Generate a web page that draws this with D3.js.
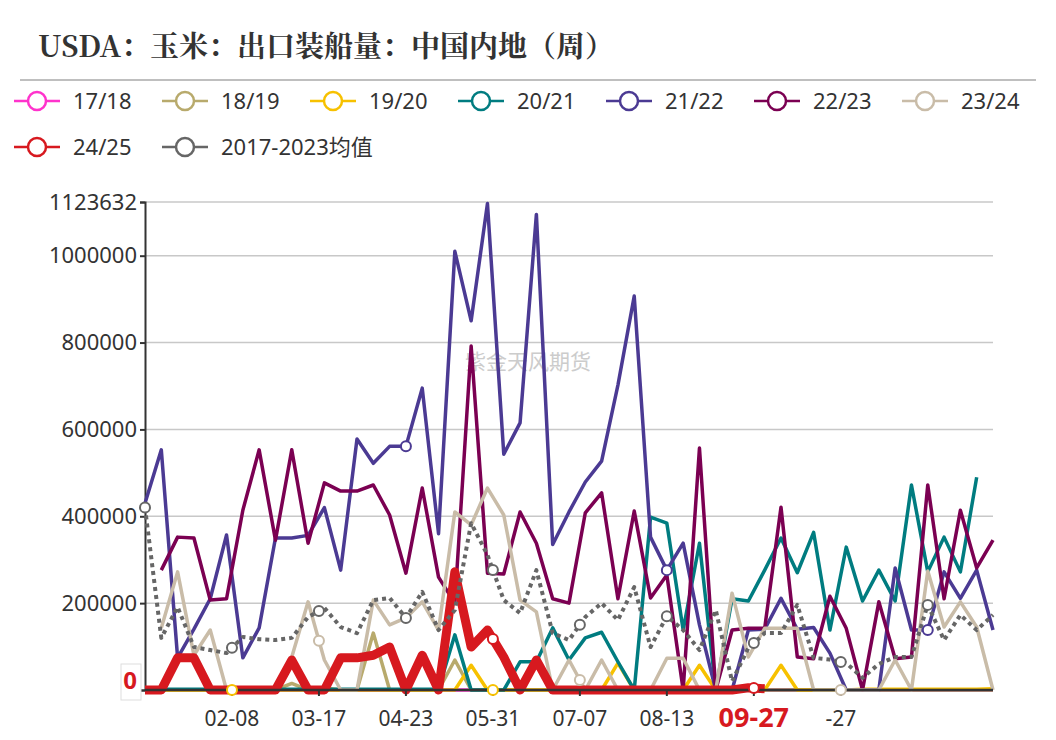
<!DOCTYPE html>
<html><head><meta charset="utf-8">
<script src="https://cdn.jsdelivr.net/npm/d3@7"></script>
<style>body{margin:0;background:#fff;font-family:"Noto Sans","Noto Sans CJK SC",sans-serif;}</style>
</head><body><svg id="chart" width="1056" height="740"></svg>
<script>
// weekly values, k = 1000
var s1718 = [0,0,0,0,0,0,0,0,0,0,0,0,0,0,0,0,0,0,0,0,0,0,0,0,0,0,0,0,0,0,0,0,0,0,0,0,0,0,0,0,0,0,0,0,0,0,0,0,0,0,0,0,0];
var s1819 = [0,0,0,0,0,0,0,0,0,15,0,5,0,0,131,0,0,0,0,69,0,0,0,0,0,0,0,0,0,0,0,0,0,0,0,0,0,0,0,0,0,0,0,0,0,0,0,0,0,0,0,0,0];
var s1920 = [0,0,0,0,0,0,0,0,0,0,0,0,0,0,0,0,0,0,0,0,57,0,0,0,0,0,0,0,0,62,0,0,0,0,57,0,0,0,0,57,0,0,0,0,2,2,2,2,2,2,2,2,3];
var s2021 = [2,2,2,2,2,2,2,2,2,2,2,2,2,2,2,2,2,2,2,127,0,0,0,65,65,143,69,120,133,65,0,398,384,138,338,0,210,205,276,350,270,363,138,329,205,276,205,472,272,352,272,490,null];
var s2122 = [430,553,74,140,210,357,74,143,350,350,356,420,276,578,522,561,561,695,360,1010,850,1120,543,615,1095,335,410,479,527,702,907,352,276,338,150,0,0,138,140,211,140,144,85,0,0,0,281,138,138,272,211,276,138];
var s2223 = [null,276,352,350,207,210,414,553,345,553,338,477,458,458,472,403,269,465,260,200,792,269,267,410,338,210,200,408,454,210,412,212,265,0,557,0,138,142,142,421,76,72,216,142,0,203,72,76,472,210,414,281,345];
var s2324 = [null,143,272,80,138,0,0,0,0,76,203,69,0,0,207,150,166,203,138,410,380,465,403,207,180,0,69,0,69,0,0,0,73,73,0,0,223,76,142,142,142,0,0,0,0,0,69,0,274,145,203,145,0];
var s2425 = [0,0,74,74,0,0,0,0,0,69,0,0,74,74,80,99,0,80,0,272,99,138,76,0,69,0,0,0,0,0,0,0,0,0,0,0,0,5,3];
var sAvg = [420,120,191,99,92,85,122,117,115,120,168,189,145,131,207,212,166,226,138,184,384,311,207,177,276,131,115,168,200,161,237,99,170,138,92,184,20,97,131,131,196,74,70,62,28,60,76,76,196,115,173,138,173];

var seriesNames = ['17/18','18/19','19/20','20/21','21/22','22/23','23/24','24/25','2017-2023均值'];
var seriesData = [s1718,s1819,s1920,s2021,s2122,s2223,s2324,s2425,sAvg];
var colors = ['#ff33cc','#b8aa6c','#f7c100','#007c80','#4b3a93','#7b0052','#c9bca8','#d7191f','#666666'];
var widths = [3.5,3.5,3.5,3.5,3.5,3.5,3.5,9,4];

var yTickValues = [0,200000,400000,600000,800000,1000000,1123632];
var xTickLabels = ['02-08','03-17','04-23','05-31','07-07','08-13','09-27','-27'];
var markers = [[8,0],[8,1],[8,2],[8,3],[8,4],[8,5],[8,6],[8,7],[8,8],[8,9],[4,3],[4,6],[4,9],[6,2],[6,5],[6,8],[2,1],[2,4],[7,4],[7,7]];

var svg = d3.select('#chart');
var L = 145, R = 993, T = 202, B = 690;
var x = d3.scaleLinear().domain([0,52]).range([L,R]);
var y = d3.scaleLinear().domain([0,1123632]).range([B,T]);
var tickIdx = function(j){ return (j+1)*16/3; };

//title
svg.append('text').attr('x',38).attr('y',57).attr('font-size',29).attr('font-weight','bold')
 .attr('font-family','"Noto Serif CJK SC","Noto Sans CJK SC",serif').attr('fill','#333')
 .text('USDA：玉米：出口装船量：中国内地（周）');
svg.append('line').attr('x1',20).attr('x2',1036).attr('y1',80).attr('y2',80).attr('stroke','#aaa').attr('stroke-width',1.5);

//legend
var lg = svg.append('g');
seriesNames.forEach(function(n,i){
  var row = i < 7 ? 0 : 1, col = i < 7 ? i : i-7;
  var gx = 14 + col*148, gy = 101 + row*46;
  var g = lg.append('g');
  g.append('line').attr('x1',gx).attr('x2',gx+46).attr('y1',gy).attr('y2',gy).attr('stroke',colors[i]).attr('stroke-width',2.5);
  g.append('circle').attr('cx',gx+23).attr('cy',gy).attr('r',9).attr('fill','#fff').attr('stroke',colors[i]).attr('stroke-width',2.5);
  g.append('text').attr('x',gx+59).attr('y',gy+8).attr('font-size',22).attr('fill','#333').text(n);
});

//grid + y axis
svg.append('g').selectAll('line').data(yTickValues.slice(1)).enter().append('line')
 .attr('x1',L).attr('x2',R).attr('y1',y).attr('y2',y).attr('stroke','#c8c8c8').attr('stroke-width',1.5);
var yAxis = svg.append('g').attr('transform','translate('+L+',0)')
 .call(d3.axisLeft(y).tickValues(yTickValues).tickFormat(function(d){return d;}).tickSize(5));
yAxis.selectAll('text').attr('font-size',22).attr('fill','#333').attr('font-family','"Noto Sans",sans-serif');
yAxis.selectAll('line,path').attr('stroke','#333').attr('stroke-width',2);

//watermark
svg.append('text').attr('x',528).attr('y',369).attr('text-anchor','middle').attr('font-size',21)
 .attr('fill','#ccc').attr('font-family','"Noto Sans CJK SC"').text('紫金天风期货');

//lines
var line = d3.line().defined(function(d){return d!=null;}).x(function(d,i){return x(i);}).y(function(d){return y(d*1000);});
seriesData.forEach(function(s,i){
  var p = svg.append('path').datum(s).attr('d',line).attr('fill','none').attr('stroke',colors[i])
   .attr('stroke-width',widths[i]).attr('stroke-linejoin','round');
  if(i===8) p.attr('stroke-dasharray','4,4');
});

//x axis
svg.append('line').attr('x1',L).attr('x2',R).attr('y1',B).attr('y2',B).attr('stroke','#333').attr('stroke-width',2.5);
xTickLabels.forEach(function(t,j){
  var px = x(tickIdx(j));
  svg.append('line').attr('x1',px).attr('x2',px).attr('y1',B).attr('y2',B+6).attr('stroke','#333').attr('stroke-width',2);
  var hi = t === '09-27';
  svg.append('text').attr('x',px).attr('y',hi?727:726).attr('text-anchor','middle')
   .attr('font-size',hi?27:21).attr('font-weight',hi?'bold':'normal').attr('fill',hi?'#d7191f':'#333').text(t);
});

//markers
markers.forEach(function(m){
  var s = seriesData[m[0]], t = m[1]===0 ? 0 : tickIdx(m[1]-1);
  var a = Math.floor(t), b = Math.min(a+1, s.length-1), f = t-a;
  if(s[a]==null) return;
  var v = s[a] + ((s[b]==null?s[a]:s[b]) - s[a])*f;
  svg.append('circle').attr('cx',x(t)).attr('cy',y(v*1000)).attr('r',5).attr('fill','#fff')
   .attr('stroke',colors[m[0]]).attr('stroke-width',2);
});

//end label on axis
svg.append('rect').attr('x',121).attr('y',664).attr('width',20).attr('height',36).attr('fill','#fff').attr('stroke','#ddd');
svg.append('text').attr('x',130).attr('y',689).attr('text-anchor','middle').attr('font-size',24).attr('font-weight','bold').attr('fill','#d7191f').text('0');
</script></body></html>
